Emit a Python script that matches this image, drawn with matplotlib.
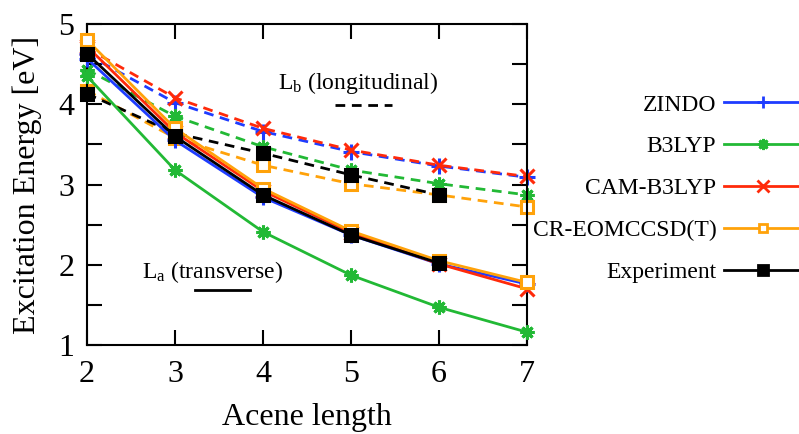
import matplotlib
matplotlib.use("Agg")
import matplotlib.pyplot as plt
from matplotlib.lines import Line2D

plt.rcParams['font.family'] = ['Liberation Serif', 'DejaVu Serif']
plt.rcParams['mathtext.fontset'] = 'custom'
plt.rcParams['mathtext.rm'] = 'Liberation Serif'
plt.rcParams['mathtext.it'] = 'Liberation Serif:italic'

# ---------------- data ----------------
acene_length = [2, 3, 4, 5, 6, 7]
methods = ["ZINDO", "B3LYP", "CAM-B3LYP", "CR-EOMCCSD(T)", "Experiment"]

zindo_La = [4.57, 3.55, 2.84, 2.37, 2.01, 1.76]
zindo_Lb = [4.62, 4.02, 3.66, 3.41, 3.23, 3.09]
b3lyp_La = [4.35, 3.18, 2.41, 1.87, 1.47, 1.16]
b3lyp_Lb = [4.43, 3.85, 3.47, 3.18, 3.01, 2.87]
cam_La = [4.72, 3.65, 2.92, 2.40, 2.01, 1.70]
cam_Lb = [4.70, 4.08, 3.70, 3.43, 3.24, 3.10]
cr_La = [4.80, 3.70, 2.95, 2.42, 2.05, 1.78]
cr_Lb = [4.17, 3.58, 3.24, 3.01, 2.87, 2.72]
exp_length = [2, 3, 4, 5, 6]
exp_La = [4.63, 3.60, 2.87, 2.37, 2.02]
exp_Lb = [4.13, 3.64, 3.39, 3.12, 2.87]

xticks = [2, 3, 4, 5, 6, 7]
yticks = [1, 2, 3, 4, 5]

# ---------------- style ----------------
colors = ["#1e3cff", "#22b935", "#ff2a0a", "#ffa20a", "#000000"]
markers = ["+", (8, 2, 0), "x", "s", "s"]
msizes = [11, 10, 10, 8, 9]
mfcs = [None, None, None, "white", "black"]

series = [
    (acene_length, zindo_La, zindo_Lb),
    (acene_length, b3lyp_La, b3lyp_Lb),
    (acene_length, cam_La, cam_Lb),
    (acene_length, cr_La, cr_Lb),
    (exp_length, exp_La, exp_Lb),
]

fig = plt.figure(figsize=(7.99, 4.34), dpi=100)
ax = fig.add_axes([87 / 799, 1 - 345 / 434, 440 / 799, 321 / 434])

lw = 2.0
dash = (0, (3.5, 2.4))
for i, (xs, la, lb) in enumerate(series):
    c = colors[i]
    kw = dict(color=c, marker=markers[i], ms=msizes[i], mew=2.2,
              mec=c, mfc=(mfcs[i] if mfcs[i] else c), clip_on=False)
    ax.plot(xs, lb, lw=lw, linestyle=dash, zorder=2 + i * 0.1, **kw)
for i, (xs, la, lb) in enumerate(series):
    c = colors[i]
    kw = dict(color=c, marker=markers[i], ms=msizes[i], mew=2.2,
              mec=c, mfc=(mfcs[i] if mfcs[i] else c), clip_on=False)
    ax.plot(xs, la, lw=lw, linestyle="-", zorder=3 + i * 0.1, **kw)

ax.set_xlim(2, 7)
ax.set_ylim(1, 5)
ax.set_xticks(xticks)
ax.set_yticks(yticks)
ax.set_yticks([1.5, 2.5, 3.5, 4.5], minor=True)
ax.tick_params(which="both", direction="in", length=11, width=1.5,
               top=True, right=True, labelsize=23, pad=11)
ax.tick_params(axis="y", which="both", pad=9)
for s in ax.spines.values():
    s.set_linewidth(1.5)
ax.set_xlabel("Acene length", fontsize=23, labelpad=10)
ax.set_ylabel("Excitation Energy [eV]", fontsize=23, labelpad=12)

# annotations for the two states
ax.text(4.17, 4.26, r"$\mathrm{L_b}$ (longitudinal)", fontsize=17, va="center", ha="left")
ax.plot([4.82, 5.47], [3.99, 3.99], color="black", lw=lw, linestyle=dash)
ax.text(2.63, 1.91, r"$\mathrm{L_a}$ (transverse)", fontsize=17, va="center", ha="left")
ax.plot([3.23, 3.85], [1.69, 1.69], color="black", lw=lw, linestyle="-")

# legend
handles = []
for i, m in enumerate(methods):
    handles.append(Line2D([], [], color=colors[i], lw=lw, marker=markers[i],
                          ms=msizes[i] * 0.8, mew=2.0, mec=colors[i],
                          mfc=(mfcs[i] if mfcs[i] else colors[i])))
leg = fig.legend(handles, methods, loc="center right", markerfirst=False,
                 bbox_to_anchor=(814 / 799, 1 - 188.5 / 434), frameon=False,
                 fontsize=17, handlelength=3.3, handletextpad=0.34,
                 labelspacing=0.86, borderpad=0)

fig.savefig("out.png", dpi=100)
